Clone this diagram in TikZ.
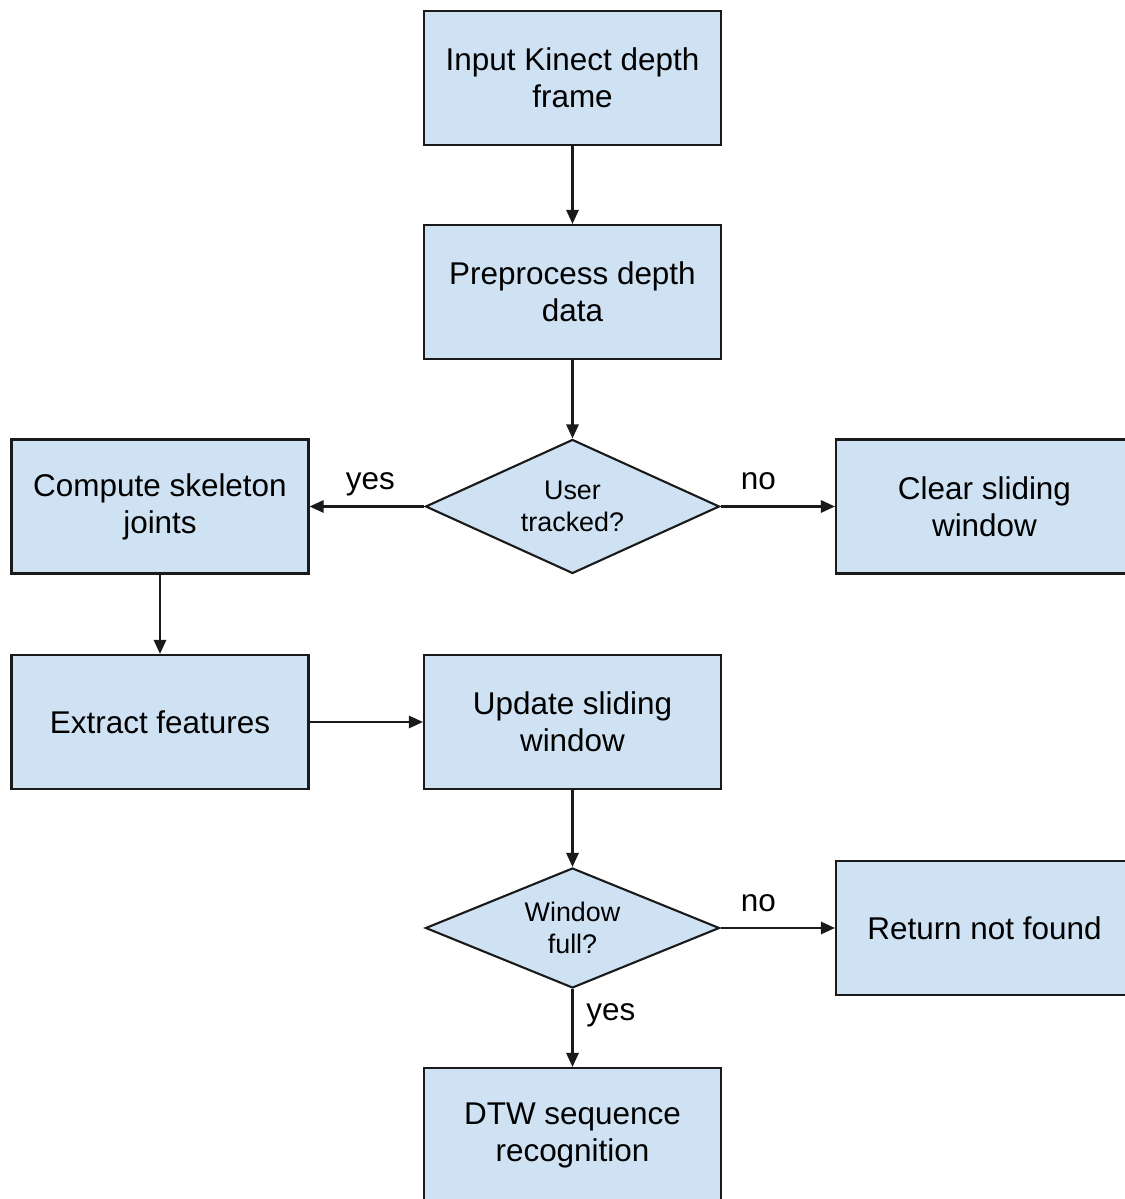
\documentclass[tikz,border=0pt]{standalone}
\usepackage{fontspec}
\setmainfont{Liberation Sans}
\usetikzlibrary{shapes.geometric,arrows.meta}
\definecolor{boxfill}{HTML}{CFE2F3}
\definecolor{boxline}{HTML}{1A1A1A}
\begin{document}
\begin{tikzpicture}
  \useasboundingbox (0,0) rectangle (22.5,23.98) ;
  \clip (0,0) rectangle (22.5,23.98) ;
  \begin{scope}[line width=1.2pt,draw=boxline,
      box/.style={draw=boxline,fill=boxfill,minimum width=5.94cm,minimum height=2.68cm,inner sep=0cm,align=center,font=\fontsize{17.9}{21}\selectfont},
      test/.style={diamond,aspect=2.2,draw=boxline,fill=boxfill,minimum width=5.88cm,inner sep=0cm,align=center,font=\fontsize{15.3}{18.2}\selectfont},
      arr/.style={-{Triangle[length=8pt,width=7pt]}},
      lbl/.style={font=\fontsize{17.9}{21}\selectfont,text height=.75em,text depth=.25em}]
    \node[box] (input) at (11.45,22.42) {Input Kinect depth\\frame} ;
    \node[box] (prep) at (11.45,18.14) {Preprocess depth\\data} ;
    \node[test,minimum height=2.68cm] (tracked) at (11.45,13.85) {User\\tracked?} ;
    \node[box] (skel) at (3.2,13.85) {Compute skeleton\\joints} ;
    \node[box] (clear) at (19.69,13.85) {Clear sliding\\window} ;
    \node[box] (feat) at (3.2,9.54) {Extract features} ;
    \node[box] (update) at (11.45,9.54) {Update sliding\\window} ;
    \node[test,minimum height=2.4cm] (full) at (11.45,5.42) {Window\\full?} ;
    \node[box] (notfound) at (19.69,5.42) {Return not found} ;
    \node[box] (dtw) at (11.45,1.28) {DTW sequence\\recognition} ;

    \draw[arr] (input) -- (prep) ;
    \draw[arr] (prep) -- (tracked) ;
    \draw[arr] (tracked.west) -- node[lbl,above=3pt,pos=0.47] (yesa) {yes} (skel.east) ;
    \draw[arr] (tracked.east) -- node[lbl,above=3pt,pos=0.33] (noa) {no} (clear.west) ;
    \draw[arr] (skel) -- (feat) ;
    \draw[arr] (feat) -- (update) ;
    \draw[arr] (update) -- (full) ;
    \draw[arr] (full.east) -- node[lbl,above=3pt,pos=0.33] (nob) {no} (notfound.west) ;
    \draw[arr] (full.south) -- node[lbl,right=4pt,pos=0.35] (yesb) {yes} (dtw.north) ;
  \end{scope}
\end{tikzpicture}
\end{document}
